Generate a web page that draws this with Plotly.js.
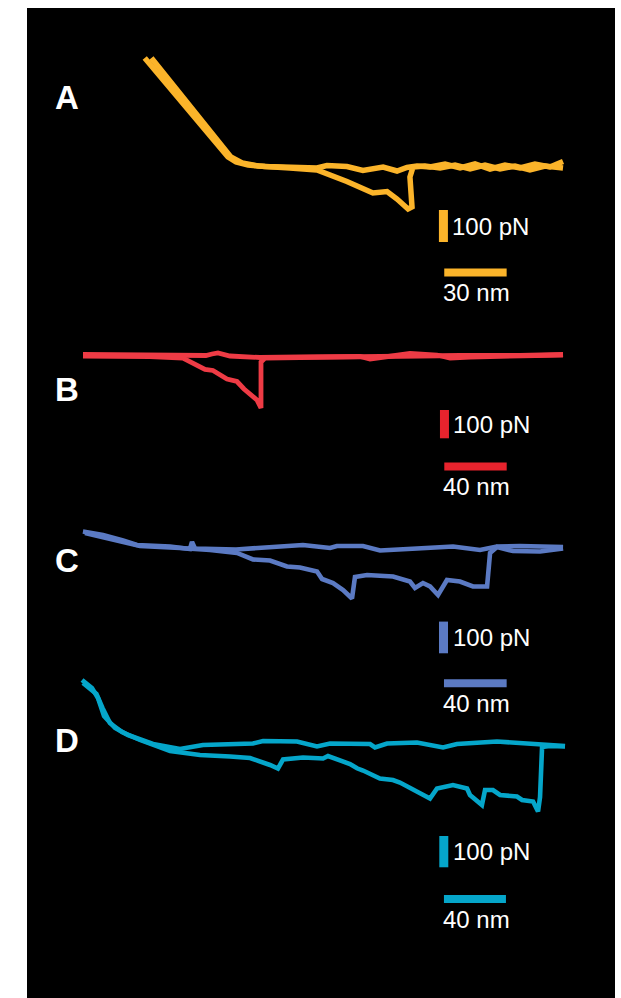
<!DOCTYPE html>
<html>
<head>
<meta charset="utf-8">
<script src="https://cdn.plot.ly/plotly-3.0.1.min.js"></script>
<style>html,body{margin:0;padding:0;background:#fff;}#chart{width:621px;height:998px;}</style>
</head>
<body>
<div id="chart"></div>
<script>
// ---------- DATA (extension in nm, force in pN) ----------
const panelNames = ['A', 'B', 'C', 'D'];
const scaleNm = [30, 40, 40, 40];
const scalePn = [100, 100, 100, 100];

// Panel A
const aApproachNm = [56.6, 96.6, 100.5, 106.3, 114.4, 126.4, 139.4, 144.2, 153.8, 161.5, 171.2, 177.9, 182.7, 187.5, 193.8, 201.0, 208.2, 215.4, 222.6, 229.8, 237.0, 244.2, 251.4, 257.7];
const aApproachPn = [340.6, 31.3, 15.6, 6.3, 1.6, 0, -3.1, 4.7, 1.6, -10.9, 0, -12.5, -1.6, 3.1, 0, 9.4, -3.1, 9.4, -6.3, 6.3, -3.1, 9.4, 0, 17.2];
const aRetractNm = [59.8, 98.0, 103.4, 111.1, 126.4, 139.4, 153.8, 166.3, 173.1, 177.9, 183.2, 185.1, 184.1, 185.6, 191.3, 198.6, 205.8, 213.0, 220.2, 227.4, 234.6, 241.8, 249.0, 257.7];
const aRetractPn = [340.6, 31.3, 12.5, 3.1, -3.1, -9.4, -45.3, -81.3, -76.6, -100, -131.3, -125, -31.3, 0, 3.1, -3.1, 6.3, -6.3, 6.3, -6.3, 3.1, -9.4, 3.1, -3.1];

// Panel B
const bApproachNm = [35.9, 78.8, 114.7, 118.6, 122.4, 130.1, 149.4, 175.0, 213.5, 219.9, 232.7, 245.5, 262.8, 271.2, 284.0, 303.2, 343.6];
const bApproachPn = [5.3, 3.5, 1.8, 7.1, 10.6, 0, -5.3, -3.5, -1.8, -10.6, 0, 8.8, 3.5, -7.1, -3.5, 0, 3.5];
const bRetractNm = [35.9, 78.8, 100.0, 109.0, 114.1, 119.2, 128.2, 134.6, 139.1, 147.4, 150.0, 150.0, 152.6, 175.0, 200.6, 226.3, 251.9, 277.6, 316.0, 343.6];
const bRetractPn = [0, -1.8, -7.1, -35.3, -47.7, -51.2, -81.3, -90.1, -116.6, -155.5, -183.7, -21.2, -7.1, -5.3, -3.5, -1.8, 3.5, 1.8, 1.8, 5.3];

// Panel C
const cApproachNm = [35.7, 48.5, 61.3, 70.2, 91.3, 104.0, 105.3, 107.2, 133.4, 155.1, 176.1, 193.4, 197.8, 214.4, 225.3, 248.9, 271.9, 289.1, 299.9, 314.6, 342.1];
const cApproachPn = [48.9, 37.9, 20.5, 6.3, 1.6, -6.3, 15.8, -4.7, -7.9, -1.6, 6.3, -3.2, 3.2, 3.2, -11.0, -4.7, 1.6, -9.5, 1.6, 3.2, 0];
const cRetractNm = [37.0, 62.5, 72.1, 97.6, 116.8, 134.0, 144.2, 155.1, 165.9, 174.2, 185.1, 188.3, 195.3, 201.7, 207.4, 209.3, 217.0, 233.6, 244.4, 247.6, 252.7, 257.2, 262.3, 268.0, 276.3, 284.6, 293.6, 295.5, 299.9, 310.1, 327.4, 342.1];
const cRetractPn = [44.2, 15.8, 3.2, -3.2, -9.5, -18.9, -39.4, -42.6, -61.5, -64.7, -77.3, -100.9, -113.6, -135.6, -162.5, -94.6, -88.3, -93.1, -108.8, -129.3, -113.6, -124.6, -151.4, -104.1, -108.8, -124.6, -124.6, -18.9, 0, -12.6, -14.2, -4.7];

// Panel D
const dApproachNm = [35.5, 41.9, 45.8, 49.7, 56.8, 65.2, 81.3, 98.7, 113.5, 145.8, 152.3, 174.2, 187.1, 195.5, 221.3, 224.5, 232.3, 251.6, 268.4, 277.4, 303.2, 331.0, 347.1];
const dApproachPn = [207.7, 182.1, 150.2, 92.7, 54.3, 31.9, 3.2, -12.8, 0, 4.8, 12.8, 11.2, -4.8, 4.8, 3.2, -8.0, 4.8, 8.0, -8.0, 3.2, 11.2, 0, -3.2];
const dRetractNm = [36.1, 44.8, 48.7, 53.5, 61.3, 72.9, 92.3, 111.6, 131.0, 143.9, 156.8, 161.9, 165.2, 178.1, 191.0, 194.2, 208.4, 212.9, 216.8, 227.7, 236.1, 240.6, 260.0, 264.5, 274.8, 283.9, 285.8, 293.5, 295.5, 300.6, 305.2, 316.1, 319.4, 326.5, 329.7, 331.0, 332.3, 337.4, 347.1];
const dRetractPn = [198.1, 162.9, 118.2, 70.3, 41.5, 16.0, -19.2, -31.9, -36.7, -41.5, -63.9, -75.1, -46.3, -39.9, -43.1, -35.1, -60.7, -74.4, -81.5, -107.0, -111.8, -119.8, -170.9, -139.0, -127.8, -139.0, -159.7, -191.7, -143.8, -143.8, -159.7, -164.5, -175.7, -180.5, -212.5, -166.1, -6.4, -3.2, -4.8];

// ---------- LAYOUT CONFIG (pixel geometry & styles) ----------
const W = 621, H = 998;
const BG_LEFT = 27, BG_RIGHT = 615, BG_TOP = 8;
const panelCfg = [
  {appr:[aApproachNm,aApproachPn], retr:[aRetractNm,aRetractPn], color:'#FBB42A', bar:'#FBB42A', s:2.08, sy:0.32, pb:167, top:8,   bot:320, lw:5.5,
   vbar:[200.2,-234.4], hbar:[200.6,-329.7], letterY:97},
  {appr:[bApproachNm,bApproachPn], retr:[bRetractNm,bRetractPn], color:'#EE3B45', bar:'#E8232D', s:1.56, sy:0.283, pb:356, top:320, bot:505, lw:4.8,
   vbar:[267.6,-290.8], hbar:[267.5,-390.5], letterY:389},
  {appr:[cApproachNm,cApproachPn], retr:[cRetractNm,cRetractPn], color:'#5B7AC3', bar:'#5B7AC3', s:1.567, sy:0.317, pb:547, top:505, bot:715, lw:4.6,
   vbar:[265.8,-335.3], hbar:[266.1,-430.0], letterY:560},
  {appr:[dApproachNm,dApproachPn], retr:[dRetractNm,dRetractPn], color:'#05A6CA', bar:'#05A6CA', s:1.55, sy:0.313, pb:745, top:660, bot:998, lw:4.6,
   vbar:[268.9,-390.7], hbar:[269.0,-492.0], letterY:740}
];

const traces = [];
const shapes = [{type:'rect', xref:'paper', yref:'paper', layer:'below',
                 x0:BG_LEFT / W, x1:BG_RIGHT / W, y0:0, y1:(H - BG_TOP) / H,
                 fillcolor:'#000000', line:{width:0}}];
const annotations = [];
const layout = {
  width: W, height: H,
  margin: {l:0, r:0, t:0, b:0, pad:0},
  paper_bgcolor: '#ffffff',
  plot_bgcolor: 'rgba(0,0,0,0)',
  showlegend: false,
  shapes: shapes,
  annotations: annotations
};

const labelFont = {family:'Liberation Sans, Arial, sans-serif', size:24, color:'#ffffff'};
const letterFont = {family:'Liberation Sans Narrow, Liberation Sans, Arial, sans-serif', size:33, color:'#ffffff', weight:700};

panelCfg.forEach((p, i) => {
  const n = i === 0 ? '' : String(i + 1);
  const xa = 'x' + n, ya = 'y' + n;
  const xRange = [0, (BG_RIGHT - BG_LEFT) / p.s];
  const yRange = [(p.pb - p.bot) / p.sy, (p.pb - p.top) / p.sy];
  layout['xaxis' + n] = {domain:[BG_LEFT / W, BG_RIGHT / W], range:xRange, visible:false, fixedrange:true, anchor:ya};
  layout['yaxis' + n] = {domain:[(H - p.bot) / H, (H - p.top) / H], range:yRange, visible:false, fixedrange:true, anchor:xa};

  traces.push({x:p.appr[0], y:p.appr[1], xaxis:xa, yaxis:ya, type:'scatter', mode:'lines',
               line:{color:p.color, width:p.lw}, hoverinfo:'skip'});
  traces.push({x:p.retr[0], y:p.retr[1], xaxis:xa, yaxis:ya, type:'scatter', mode:'lines',
               line:{color:p.color, width:p.lw}, hoverinfo:'skip'});

  // force scale bar (vertical)
  shapes.push({type:'line', xref:xa, yref:ya, x0:p.vbar[0], x1:p.vbar[0], y0:p.vbar[1], y1:p.vbar[1] + scalePn[i],
               line:{color:p.bar, width:9}});
  // distance scale bar (horizontal)
  shapes.push({type:'line', xref:xa, yref:ya, x0:p.hbar[0], x1:p.hbar[0] + scaleNm[i], y0:p.hbar[1], y1:p.hbar[1],
               line:{color:p.bar, width:8}});

  annotations.push({xref:xa, yref:ya, x:p.vbar[0], y:p.vbar[1] + scalePn[i] / 2, xanchor:'left', yanchor:'middle',
                    xshift:7, yshift:0, text:scalePn[i] + ' pN', showarrow:false, font:labelFont});
  annotations.push({xref:xa, yref:ya, x:p.hbar[0], y:p.hbar[1], xanchor:'left', yanchor:'middle',
                    xshift:-3, yshift:-20, text:scaleNm[i] + ' nm', showarrow:false, font:labelFont});
  annotations.push({xref:'paper', yref:'paper', x:67 / W, y:(H - p.letterY) / H, xanchor:'center', yanchor:'middle',
                    text:'<b>' + panelNames[i] + '</b>', showarrow:false, font:letterFont});
});

Plotly.newPlot('chart', traces, layout, {staticPlot:true, displayModeBar:false});
</script>
</body>
</html>
